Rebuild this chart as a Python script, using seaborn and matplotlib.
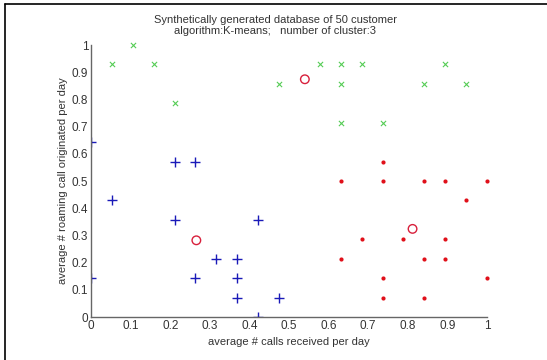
import numpy as np
import pandas as pd
import matplotlib
matplotlib.use("Agg")
import matplotlib.pyplot as plt
import seaborn as sns

# cluster 1 (green x)
green_x = [0.053, 0.105, 0.158, 0.211, 0.474, 0.579, 0.632, 0.684, 0.895,
           0.632, 0.842, 0.947, 0.632, 0.737]
green_y = [0.929, 1.000, 0.929, 0.786, 0.857, 0.929, 0.929, 0.929, 0.929,
           0.857, 0.857, 0.857, 0.714, 0.714]

# cluster 2 (blue +)
blue_x = [0.000, 0.211, 0.263, 0.053, 0.211, 0.421, 0.316, 0.368, 0.000,
          0.263, 0.368, 0.368, 0.474, 0.421]
blue_y = [0.643, 0.571, 0.571, 0.429, 0.357, 0.357, 0.214, 0.214, 0.143,
          0.143, 0.143, 0.071, 0.071, 0.000]

# cluster 3 (red dots)
red_x = [0.737, 0.632, 0.737, 0.842, 0.895, 1.000, 0.947, 0.684, 0.789,
         0.895, 0.632, 0.842, 0.895, 0.737, 1.000, 0.737, 0.842]
red_y = [0.571, 0.500, 0.500, 0.500, 0.500, 0.500, 0.429, 0.286, 0.286,
         0.286, 0.214, 0.214, 0.214, 0.143, 0.143, 0.071, 0.071]

# centroids (red circles)
cent_x = [0.540, 0.266, 0.812]
cent_y = [0.874, 0.282, 0.324]

ticks = [0, 0.1, 0.2, 0.3, 0.4, 0.5, 0.6, 0.7, 0.8, 0.9, 1]
tick_labels = ["0", "0.1", "0.2", "0.3", "0.4", "0.5", "0.6", "0.7", "0.8", "0.9", "1"]


def main():
    sns.set_style("white")
    plt.rcParams["font.family"] = ["Liberation Sans", "DejaVu Sans"]

    fig = plt.figure(figsize=(5.47, 3.6), dpi=100)
    ax = fig.add_axes([0.1664, 0.1194, 0.7239, 0.7556])

    sns.scatterplot(x=green_x, y=green_y, marker="x", color="#55cc55",
                    s=14, linewidth=0.8, clip_on=False, ax=ax)
    sns.scatterplot(x=blue_x, y=blue_y, marker="+", color="#1a1ab8",
                    s=55, linewidth=1.0, ax=ax)
    sns.scatterplot(x=red_x, y=red_y, marker="o", color="#e0101a",
                    s=9, linewidth=0, clip_on=False, ax=ax)
    sns.scatterplot(x=cent_x, y=cent_y, marker="o", facecolor="none",
                    edgecolor="#d8203c", s=38, linewidth=1.0, ax=ax)

    ax.set_xlim(0, 1)
    ax.set_ylim(0, 1)
    ax.set_xticks(ticks)
    ax.set_xticklabels(tick_labels)
    ax.set_yticks(ticks)
    ax.set_yticklabels(tick_labels)
    ax.tick_params(direction="in", length=4, width=0.8, colors="#555555",
                   labelsize=8.5, labelcolor="#333333", pad=2)
    for side in ["top", "right"]:
        ax.spines[side].set_visible(False)
    for side in ["left", "bottom"]:
        ax.spines[side].set_color("#666666")
        ax.spines[side].set_linewidth(1.0)

    fig.text(0.503, 0.944, "Synthetically generated database of 50 customer",
             ha="center", va="center", fontsize=8, color="#333333")
    fig.text(0.503, 0.913, "algorithm:K-means;   number of cluster:3",
             ha="center", va="center", fontsize=8, color="#333333")
    ax.set_xlabel("average # calls received per day", fontsize=8,
                  color="#333333", labelpad=4)
    ax.set_ylabel("average # roaming call originated per day", fontsize=8,
                  color="#333333", labelpad=3)

    # outer frame of the original screenshot
    fig.add_artist(plt.Line2D([0.009, 0.009], [0, 0.989], color="black",
                              linewidth=1.2, transform=fig.transFigure))
    fig.add_artist(plt.Line2D([0.009, 1], [0.989, 0.989], color="black",
                              linewidth=1.2, transform=fig.transFigure))

    fig.savefig("out.png", dpi=100, facecolor="white")


if __name__ == "__main__":
    main()
